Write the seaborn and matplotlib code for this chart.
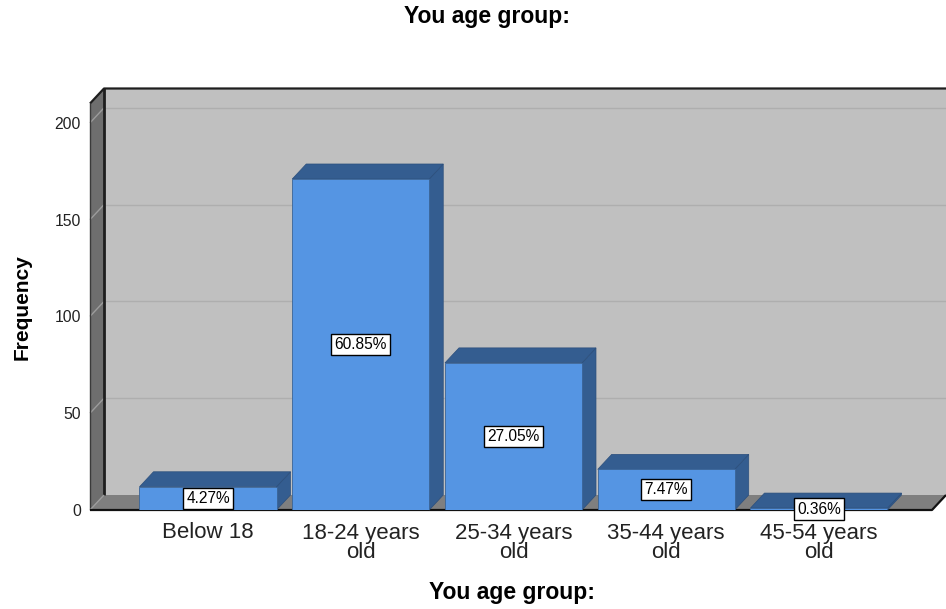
import matplotlib
matplotlib.use("Agg")
import matplotlib.pyplot as plt
from matplotlib.patches import Polygon
import pandas as pd
import seaborn as sns

# Age-group frequencies (N = 281)
categories = ["Below 18", "18-24 years old", "25-34 years old",
              "35-44 years old", "45-54 years old"]
tick_labels = ["Below 18", "18-24 years\nold", "25-34 years\nold",
               "35-44 years\nold", "45-54 years\nold"]
counts = [12, 171, 76, 21, 1]
percents = [4.27, 60.85, 27.05, 7.47, 0.36]
y_ticks = [0, 50, 100, 150, 200]

W, H = 946, 609
DEPTH_PX = (14, 15)          # depth offset of the 3D box, in pixels

C_FRONT = "#5595E3"
C_DARK = "#345D90"
C_WALL = "#C0C0C0"
C_SIDEWALL = "#6E6E6E"
C_FLOOR = "#7F7F7F"
C_GRID = "#AEAEAE"

sns.set_theme(style="white")
plt.rcParams["font.family"] = ["Liberation Sans", "DejaVu Sans"]

fig = plt.figure(figsize=(W / 100, H / 100), dpi=100)
ax = fig.add_axes([90 / W, (H - 510) / H, (932 - 90) / W, (510 - 103.5) / H])

df = pd.DataFrame({"group": categories, "count": counts})
sns.barplot(data=df, x="group", y="count", ax=ax, color=C_FRONT,
            saturation=1, width=0.897, edgecolor="#3A6497", linewidth=0.6,
            zorder=3)

x_lo, x_hi = -0.7725, 4.74
y_lo, y_hi = 0, 210
ax.set_xlim(x_lo, x_hi)
ax.set_ylim(y_lo, y_hi)
for s in ax.spines.values():
    s.set_visible(False)
ax.set_facecolor("none")

# depth offsets in data units
p0 = ax.transData.transform((0, 0))
p1 = ax.transData.transform((1, 1))
ddx = DEPTH_PX[0] / (p1[0] - p0[0])
ddy = DEPTH_PX[1] / (p1[1] - p0[1])


def poly(pts, fc, ec="none", lw=0.0, z=0.5):
    ax.add_patch(Polygon(pts, closed=True, facecolor=fc, edgecolor=ec,
                         linewidth=lw, zorder=z, clip_on=False,
                         joinstyle="miter"))


def line(xs, ys, color="black", lw=1.2, z=1.0):
    ax.plot(xs, ys, color=color, lw=lw, zorder=z, clip_on=False,
            solid_capstyle="butt")


# back wall
poly([(x_lo + ddx, ddy), (x_hi + ddx, ddy), (x_hi + ddx, y_hi + ddy),
      (x_lo + ddx, y_hi + ddy)], C_WALL, z=0.1)
# left wall
poly([(x_lo, 0), (x_lo + ddx, ddy), (x_lo + ddx, y_hi + ddy), (x_lo, y_hi)],
     C_SIDEWALL, z=0.2)
# floor
poly([(x_lo, 0), (x_hi, 0), (x_hi + ddx, ddy), (x_lo + ddx, ddy)],
     C_FLOOR, z=0.2)

# gridlines on back wall and their traces across the left wall
for t in y_ticks[1:]:
    line([x_lo + ddx, x_hi + ddx], [t + ddy, t + ddy], C_GRID, 1.0, 0.3)
    line([x_lo, x_lo + ddx], [t, t + ddy], "#9C9C9C", 1.0, 0.3)

# box edges
line([x_lo, x_lo + ddx, x_hi + ddx], [y_hi, y_hi + ddy, y_hi + ddy],
     "#1E1E1E", 1.6, 0.6)
line([x_lo + ddx, x_lo + ddx], [ddy, y_hi + ddy], "#1E1E1E", 2.0, 0.6)
line([x_lo, x_lo], [0, y_hi], "#3A3A3A", 1.0, 0.6)
line([x_lo, x_lo + ddx], [0, ddy], "#9C9C9C", 1.0, 0.6)
line([x_lo, x_hi, x_hi + ddx], [0, 0, ddy], "#111111", 1.6, 0.6)

# 3D sides and tops of the bars
for bar in ax.patches[:len(counts)]:
    x0 = bar.get_x()
    x1 = x0 + bar.get_width()
    h = bar.get_height()
    poly([(x1, 0), (x1 + ddx, ddy), (x1 + ddx, h + ddy), (x1, h)],
         C_DARK, "#2C4F7C", 0.5, 1.5)
    poly([(x0, h), (x1, h), (x1 + ddx, h + ddy), (x0 + ddx, h + ddy)],
         C_DARK, "#2C4F7C", 0.5, 1.6)

# percentage labels
for i, (c, p) in enumerate(zip(counts, percents)):
    ax.text(i, c / 2, f"{p:.2f}%", ha="center", va="center", fontsize=11.2,
            color="black", zorder=5,
            bbox=dict(boxstyle="square,pad=0.2", fc="white", ec="black",
                      lw=1.0))

ax.set_yticks(y_ticks)
ax.set_yticklabels([str(t) for t in y_ticks], fontsize=11.3, color="#222222")
ax.set_xticks(range(len(categories)))
ax.set_xticklabels(tick_labels, fontsize=16, color="#222222",
                   linespacing=0.92)
ax.tick_params(axis="y", length=0, pad=6.5)
ax.tick_params(axis="x", length=0, pad=9)
ax.set_xlabel("")
ax.set_ylabel("")

fig.text(487 / W, 1 - 17 / H, "You age group:", ha="center", va="center",
         fontsize=16.5, fontweight="bold", color="black")
fig.text(512 / W, 1 - 593 / H, "You age group:", ha="center", va="center",
         fontsize=16.5, fontweight="bold", color="black")
fig.text(22 / W, 1 - 307 / H, "Frequency", ha="center", va="center",
         rotation=90, fontsize=15, fontweight="bold", color="black")

fig.savefig("out.png", dpi=100, facecolor="white")
